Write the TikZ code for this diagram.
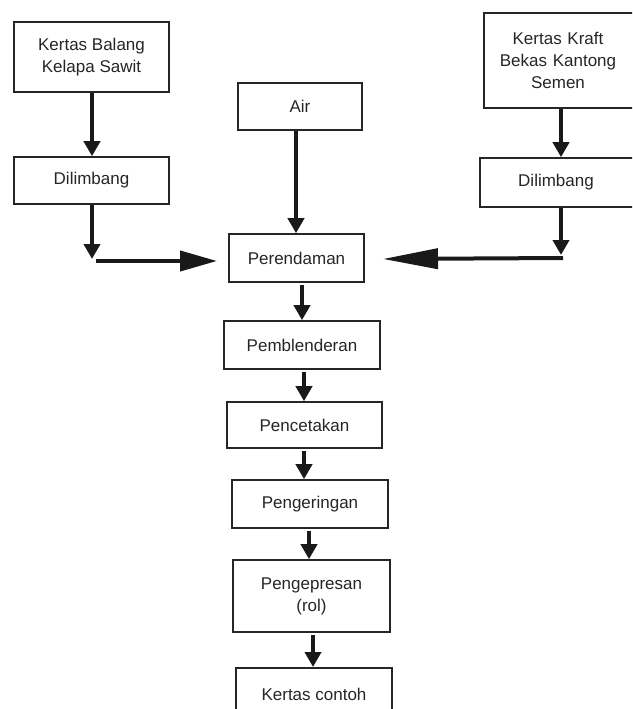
\documentclass[tikz,border=0pt]{standalone}
\usepackage{fontspec}
\setmainfont{Liberation Sans}
\usetikzlibrary{arrows.meta}
\begin{document}
\begin{tikzpicture}[x=1pt,y=-1pt,
  box/.style={draw=black!85,line width=1.6pt,fill=white,inner sep=0pt,align=center,
    font=\fontsize{17}{22}\selectfont,text=black!85},
  arr/.style={line width=4pt,black!90,-{Triangle[length=15pt,width=16pt]}},
  harr/.style={line width=4pt,black!90,-{Triangle[length=37pt,width=20pt]}},
  harrlong/.style={line width=4pt,black!90,-{Triangle[length=55pt,width=20pt]}}]
\useasboundingbox (0,0) rectangle (632,709);
\clip (0,0) rectangle (632,709);
\node[box,minimum width=155pt,minimum height=70pt] (kb) at (91.5,57) {Kertas Balang\\Kelapa Sawit};
\node[box,minimum width=155pt,minimum height=47pt] (d1) at (91.5,180.5) {Dilimbang};
\node[box,minimum width=124pt,minimum height=47pt] (air) at (300,106.5) {Air};
\node[box,minimum width=170pt,minimum height=95pt,text width=150pt] (kk) at (569,60.5) {\hspace*{-22pt}Kertas Kraft\\\hspace*{-22pt}Bekas Kantong\\\hspace*{-22pt}Semen};
\node[box,minimum width=170pt,minimum height=49pt] (d2) at (565,182.5) {\hspace*{-18pt}Dilimbang};
\node[box,minimum width=135pt,minimum height=48pt] (per) at (296.5,258) {Perendaman};
\node[box,minimum width=156pt,minimum height=48pt] (pem) at (302,345) {Pemblenderan};
\node[box,minimum width=155pt,minimum height=46pt] (pen) at (304.5,425) {Pencetakan};
\node[box,minimum width=156pt,minimum height=48pt] (peng) at (310,504) {Pengeringan};
\node[box,minimum width=157pt,minimum height=72pt] (pres) at (311.5,596) {Pengepresan\\(rol)};
\node[box,minimum width=156pt,minimum height=60pt,anchor=north] (kc) at (314,667) {\raisebox{6pt}{Kertas contoh}};
% left branch
\coordinate (c1) at (92,259);
\coordinate (t1) at (217,261);
\draw[arr] (kb.south -| 92,0) -- (d1.north -| 92,0);
\draw[arr] (d1.south -| 92,0) -- (c1);
\draw[harr] (96,261) -- (t1);
% air
\draw[arr] (air.south -| 296,0) -- (per.north -| 296,0);
% right branch
\coordinate (c2) at (561,255);
\coordinate (t2) at (383,259);
\draw[arr] (kk.south -| 561,0) -- (d2.north -| 561,0);
\draw[arr] (d2.south -| 561,0) -- (c2);
\draw[harrlong] (563,258) -- (t2);
% main chain
\draw[arr] (per.south -| 302,0) ++(0,2) -- (pem.north -| 302,0);
\draw[arr] (pem.south -| 304,0) ++(0,2) -- (pen.north -| 304,0);
\draw[arr] (pen.south -| 304,0) ++(0,2) -- (peng.north -| 304,0);
\draw[arr] (peng.south -| 309,0) ++(0,2) -- (pres.north -| 309,0);
\draw[arr] (pres.south -| 313,0) ++(0,2) -- (kc.north -| 313,0);
\end{tikzpicture}
\end{document}
